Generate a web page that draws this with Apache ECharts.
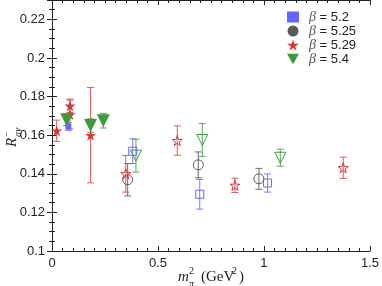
<!DOCTYPE html>
<html><head><meta charset="utf-8">
<script src="https://cdn.jsdelivr.net/npm/echarts@6/dist/echarts.min.js"></script>
<style>html,body{margin:0;padding:0;background:#fff}#c{width:382px;height:286px}</style>
</head><body><div id="c"></div>
<script>
// [x (GeV^2), R, error, filled(1)/open(0)]
const beta52  = [[0.077,0.1645,0.002,1],[0.381,0.1517,0.0064,0],[0.697,0.1294,0.0077,0],[1.017,0.1352,0.0047,0]];
const beta525 = [[0.357,0.1369,0.0084,0],[0.690,0.1446,0.0067,0],[0.976,0.1374,0.0054,0]];
const beta529 = [[0.022,0.1623,0.0055,1],[0.085,0.1752,0.0035,1],[0.085,0.1707,0.0075,1],[0.182,0.160,0.0247,1],
                 [0.348,0.140,0.0095,0],[0.591,0.1572,0.0076,0],[0.863,0.134,0.0037,0],[1.374,0.1431,0.0055,0]];
const beta54  = [[0.069,0.168,0.003,1],[0.182,0.165,0.0035,1],[0.242,0.1675,0.0038,1],
                 [0.396,0.1494,0.0085,0],[0.709,0.1575,0.0085,0],[1.077,0.1483,0.0044,0]];
const seriesNames = ['5.2','5.25','5.29','5.4'];
const xTicks = [0,0.5,1,1.5];
const yTicks = [0.1,0.12,0.14,0.16,0.18,0.2,0.22];

const STAR='path://M50,0 L61,35 L98,35 L68,57 L79,91 L50,70 L21,91 L32,57 L2,35 L39,35 Z';
const TRI='path://M0,0 L10,0 L5,8.66 Z';
const defs = [
  {name:seriesNames[0], data:beta52, color:'#6565ff', bar:'#7a7aff', symbol:'rect', sf:6, so:8},
  {name:seriesNames[1], data:beta525, color:'#5a5a5a', bar:'#6a6a6a', symbol:'circle', sf:10, so:10},
  {name:seriesNames[2], data:beta529, color:'#d63636', bar:'#dc5a5a', symbol:STAR, sf:11, so:10},
  {name:seriesNames[3], data:beta54, color:'#3f9a3f', bar:'#5aa85a', symbol:TRI, sf:13, so:11}
];

function errRender(params, api){
  const x=api.value(0), y=api.value(1), e=api.value(2);
  const hi=api.coord([x,y+e]), lo=api.coord([x,y-e]);
  const st=api.style({stroke:api.visual('color'), fill:null, lineWidth:1});
  const w=3.5;
  return {type:'group', children:[
    {type:'line', shape:{x1:hi[0],y1:hi[1],x2:lo[0],y2:lo[1]}, style:st},
    {type:'line', shape:{x1:hi[0]-w,y1:hi[1],x2:hi[0]+w,y2:hi[1]}, style:st},
    {type:'line', shape:{x1:lo[0]-w,y1:lo[1],x2:lo[0]+w,y2:lo[1]}, style:st}
  ]};
}

const series=[];
defs.forEach(d=>{
  series.push({type:'custom', name:'err'+d.name, renderItem:errRender, data:d.data.map(p=>[p[0],p[1],p[2]]),
    itemStyle:{color:d.bar}, z:1, silent:true});
});
defs.forEach(d=>{
  series.push({type:'scatter', name:d.name, symbol:d.symbol, symbolSize:d.sf, z:3,
    itemStyle:{color:d.color, opacity:1},
    data:d.data.map(p=>p[3]?{value:[p[0],p[1]], symbolSize:d.sf}
      :{value:[p[0],p[1]], symbolSize:d.so, itemStyle:{color:'rgba(255,255,255,0)', borderColor:d.color, borderWidth:1}})
  });
});

const lab={fontFamily:'Liberation Sans', fontSize:13, color:'#222'};
const axCommon={axisLine:{lineStyle:{color:'#222',width:1}}, splitLine:{show:false}};
const option={
  animation:false,
  grid:{left:52,right:11,top:0,bottom:35},
  legend:{data:seriesNames, orient:'vertical', left:282, top:5, itemGap:0, itemWidth:12, itemHeight:11,
    formatter:n=>'{b|β} = '+n,
    textStyle:{fontFamily:'Liberation Sans', fontSize:13, color:'#222', padding:[0,0,0,5],
      rich:{b:{fontFamily:'Liberation Serif', fontStyle:'italic', fontSize:14, color:'#555'}}}},
  xAxis:[
    Object.assign({type:'value', min:0, max:1.5, interval:0.5, position:'bottom',
      axisTick:{inside:true,length:5,lineStyle:{color:'#222'}},
      minorTick:{show:true,splitNumber:10,length:3,lineStyle:{color:'#222'}},
      axisLabel:Object.assign({margin:6, formatter:v=>xTicks.includes(+v.toFixed(2))?String(+v.toFixed(2)):''},lab)},axCommon),
    Object.assign({type:'value', min:0, max:1.5, interval:0.5, position:'top',
      axisTick:{inside:true,length:5,lineStyle:{color:'#222'}},
      minorTick:{show:true,splitNumber:10,length:3,lineStyle:{color:'#222'}},
      axisLabel:{show:false}},axCommon)
  ],
  yAxis:[
    Object.assign({type:'value', min:0.1, max:0.23, interval:0.02, position:'left',
      axisTick:{inside:true,length:5,lineStyle:{color:'#222'}},
      minorTick:{show:true,splitNumber:4,length:3,lineStyle:{color:'#222'}},
      axisLabel:Object.assign({margin:7, showMaxLabel:false,
        formatter:v=>{const r=+v.toFixed(2);return yTicks.includes(r)?String(r):'';}},lab)},axCommon),
    Object.assign({type:'value', min:0.1, max:0.23, interval:0.02, position:'right',
      axisTick:{inside:true,length:5,lineStyle:{color:'#222'}},
      minorTick:{show:true,splitNumber:4,length:3,lineStyle:{color:'#222'}},
      axisLabel:{show:false}},axCommon)
  ],
  series:series,
  graphic:[
    {type:'text', x:178, y:270, style:{text:'m', font:'italic 15px "Liberation Serif"', fill:'#222'}},
    {type:'text', x:189, y:266, style:{text:'2', font:'10px "Liberation Serif"', fill:'#222'}},
    {type:'text', x:189, y:279, style:{text:'π', font:'italic 10px "Liberation Serif"', fill:'#222'}},
    {type:'text', x:201, y:270, style:{text:'(GeV', font:'15px "Liberation Serif"', fill:'#222'}},
    {type:'text', x:232, y:266, style:{text:'2', font:'10px "Liberation Serif"', fill:'#222'}},
    {type:'text', x:239, y:270, style:{text:')', font:'15px "Liberation Serif"', fill:'#222'}},
    {type:'group', x:5, y:147, rotation:Math.PI/2, children:[
      {type:'text', x:0, y:0, style:{text:'R', font:'italic 15px "Liberation Serif"', fill:'#222'}},
      {type:'text', x:10, y:8, style:{text:'av', font:'italic 10px "Liberation Serif"', fill:'#222'}},
      {type:'text', x:10, y:-3, style:{text:'−', font:'10px "Liberation Serif"', fill:'#222'}}
    ]}
  ]
};
const chart=echarts.init(document.getElementById('c'));
chart.setOption(option);
</script></body></html>
